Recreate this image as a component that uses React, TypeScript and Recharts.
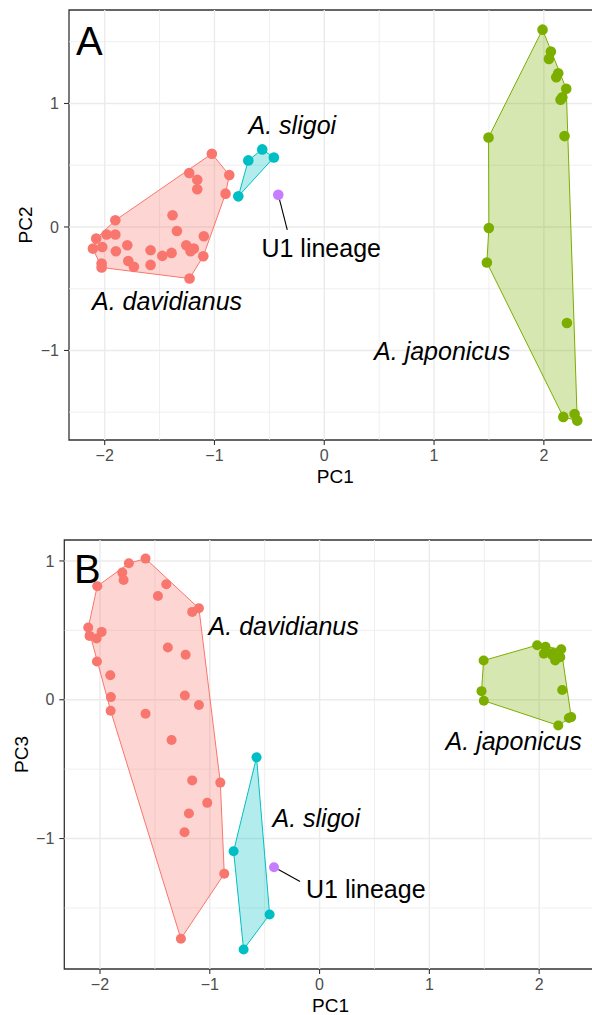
import { ScatterChart, Scatter, XAxis, YAxis, ReferenceLine, ReferenceArea } from "recharts"

// ---- data ----
type Pt = { x: number; y: number }
type Note = Pt & { text: string; kind: "species" | "lineage" | "tag" }

const xDomain = [-2.325, 2.525]
const xTicks = [-2, -1, 0, 1, 2]
const xMinor = [-1.5, -0.5, 0.5, 1.5, 2.5]
const yTicks = [-1, 0, 1]

// Panel A: PC1 vs PC2
const yDomainA = [-1.725, 1.757]
const yMinorA = [-1.5, -0.5, 0.5, 1.5]

const davidianusA: Pt[] = [
  { x: -1.024, y: 0.593 }, { x: -1.23, y: 0.437 }, { x: -1.157, y: 0.383 }, { x: -1.157, y: 0.305 },
  { x: -0.865, y: 0.42 }, { x: -0.899, y: 0.27 }, { x: -1.382, y: 0.095 }, { x: -1.342, y: -0.032 },
  { x: -1.097, y: -0.075 }, { x: -1.903, y: 0.054 }, { x: -2.077, y: -0.094 }, { x: -1.983, y: -0.061 },
  { x: -1.903, y: -0.061 }, { x: -2.107, y: -0.175 }, { x: -2.022, y: -0.162 }, { x: -1.794, y: -0.148 },
  { x: -1.898, y: -0.196 }, { x: -1.582, y: -0.188 }, { x: -1.475, y: -0.234 }, { x: -1.391, y: -0.21 },
  { x: -1.257, y: -0.148 }, { x: -1.188, y: -0.175 }, { x: -1.218, y: -0.196 }, { x: -1.102, y: -0.237 },
  { x: -2.028, y: -0.296 }, { x: -2.028, y: -0.328 }, { x: -1.785, y: -0.275 }, { x: -1.734, y: -0.323 },
  { x: -1.582, y: -0.307 }, { x: -1.227, y: -0.417 },
]
const japonicusA: Pt[] = [
  { x: 1.988, y: 1.598 }, { x: 2.064, y: 1.42 }, { x: 2.046, y: 1.361 }, { x: 2.131, y: 1.245 },
  { x: 2.113, y: 1.213 }, { x: 2.204, y: 1.119 }, { x: 2.168, y: 1.051 }, { x: 2.152, y: 1.03 },
  { x: 2.188, y: 0.736 }, { x: 1.496, y: 0.725 }, { x: 1.499, y: -0.008 }, { x: 1.481, y: -0.288 },
  { x: 2.21, y: -0.778 }, { x: 2.177, y: -1.538 }, { x: 2.28, y: -1.514 }, { x: 2.304, y: -1.568 },
]
const sligoiA: Pt[] = [
  { x: -0.692, y: 0.539 }, { x: -0.565, y: 0.628 }, { x: -0.459, y: 0.563 }, { x: -0.783, y: 0.248 },
]
const u1A: Pt[] = [{ x: -0.419, y: 0.261 }]

const hullDavidianusA: Pt[] = [
  { x: -1.024, y: 0.593 }, { x: -0.865, y: 0.42 }, { x: -0.899, y: 0.27 }, { x: -1.102, y: -0.237 },
  { x: -1.227, y: -0.417 }, { x: -2.028, y: -0.328 }, { x: -2.107, y: -0.175 }, { x: -2.077, y: -0.094 },
  { x: -1.903, y: 0.054 },
]
const hullJaponicusA: Pt[] = [
  { x: 1.988, y: 1.598 }, { x: 2.204, y: 1.119 }, { x: 2.304, y: -1.568 }, { x: 2.177, y: -1.538 },
  { x: 1.481, y: -0.288 }, { x: 1.499, y: -0.008 }, { x: 1.496, y: 0.725 },
]
const hullSligoiA: Pt[] = [
  { x: -0.783, y: 0.248 }, { x: -0.692, y: 0.539 }, { x: -0.565, y: 0.628 }, { x: -0.459, y: 0.563 },
]

const notesA: Note[] = [
  { x: -2.261, y: 1.393, text: "A", kind: "tag" },
  { x: -0.291, y: 0.753, text: "A. sligoi", kind: "species" },
  { x: -0.028, y: -0.241, text: "U1 lineage", kind: "lineage" },
  { x: -1.432, y: -0.672, text: "A. davidianus", kind: "species" },
  { x: 1.074, y: -1.077, text: "A. japonicus", kind: "species" },
]
const leaderA: Pt[] = [{ x: -0.408, y: 0.223 }, { x: -0.337, y: -0.024 }]

// Panel B: PC1 vs PC3
const yDomainB = [-1.94, 1.151]
const yMinorB = [-1.5, -0.5, 0.5]

const davidianusB: Pt[] = [
  { x: -1.585, y: 1.017 }, { x: -1.737, y: 0.983 }, { x: -1.797, y: 0.916 }, { x: -1.785, y: 0.863 },
  { x: -2.025, y: 0.818 }, { x: -1.396, y: 0.832 }, { x: -1.472, y: 0.748 }, { x: -1.099, y: 0.659 },
  { x: -1.16, y: 0.633 }, { x: -2.107, y: 0.52 }, { x: -1.985, y: 0.489 }, { x: -2.095, y: 0.46 },
  { x: -2.031, y: 0.441 }, { x: -2.028, y: 0.276 }, { x: -1.382, y: 0.376 }, { x: -1.22, y: 0.324 },
  { x: -1.906, y: 0.177 }, { x: -1.901, y: 0.019 }, { x: -1.227, y: 0.031 }, { x: -1.099, y: -0.038 },
  { x: -1.903, y: -0.079 }, { x: -1.585, y: -0.101 }, { x: -1.348, y: -0.29 }, { x: -1.16, y: -0.581 },
  { x: -0.904, y: -0.597 }, { x: -1.023, y: -0.743 }, { x: -1.19, y: -0.82 }, { x: -1.23, y: -0.955 },
  { x: -0.868, y: -1.254 }, { x: -1.263, y: -1.722 },
]
const japonicusB: Pt[] = [
  { x: 1.982, y: 0.393 }, { x: 2.058, y: 0.381 }, { x: 2.043, y: 0.331 }, { x: 2.125, y: 0.336 },
  { x: 2.201, y: 0.364 }, { x: 2.192, y: 0.307 }, { x: 2.146, y: 0.283 }, { x: 2.12, y: 0.32 },
  { x: 1.494, y: 0.283 }, { x: 1.475, y: 0.062 }, { x: 1.496, y: -0.007 }, { x: 2.21, y: 0.07 },
  { x: 2.292, y: -0.125 }, { x: 2.271, y: -0.132 }, { x: 2.174, y: -0.185 },
]
const sligoiB: Pt[] = [
  { x: -0.574, y: -0.415 }, { x: -0.783, y: -1.091 }, { x: -0.455, y: -1.547 }, { x: -0.692, y: -1.799 },
]
const u1B: Pt[] = [{ x: -0.415, y: -1.207 }]

const hullDavidianusB: Pt[] = [
  { x: -1.585, y: 1.017 }, { x: -1.099, y: 0.659 }, { x: -0.904, y: -0.597 }, { x: -0.868, y: -1.254 },
  { x: -1.263, y: -1.722 }, { x: -1.903, y: -0.079 }, { x: -2.107, y: 0.52 }, { x: -2.025, y: 0.818 },
  { x: -1.737, y: 0.983 },
]
const hullJaponicusB: Pt[] = [
  { x: 1.494, y: 0.283 }, { x: 1.982, y: 0.393 }, { x: 2.201, y: 0.364 }, { x: 2.292, y: -0.125 },
  { x: 2.174, y: -0.185 }, { x: 1.496, y: -0.007 }, { x: 1.475, y: 0.062 },
]
const hullSligoiB: Pt[] = [
  { x: -0.574, y: -0.415 }, { x: -0.455, y: -1.547 }, { x: -0.692, y: -1.799 }, { x: -0.783, y: -1.091 },
]

const notesB: Note[] = [
  { x: -2.237, y: 0.841, text: "B", kind: "tag" },
  { x: -0.327, y: 0.467, text: "A. davidianus", kind: "species" },
  { x: 1.768, y: -0.362, text: "A. japonicus", kind: "species" },
  { x: -0.03, y: -0.915, text: "A. sligoi", kind: "species" },
  { x: 0.421, y: -1.428, text: "U1 lineage", kind: "lineage" },
]
const leaderB: Pt[] = [{ x: -0.375, y: -1.223 }, { x: -0.178, y: -1.309 }]

// ---- styling ----
const RED = "#F8766D"
const GREEN = "#7CAE00"
const CYAN = "#00BFC4"
const PURPLE = "#C77CFF"
const FONT = "'Liberation Sans', Arial, Helvetica, sans-serif"

const fmt = (v: number) => String(v).replace("-", "\u2212")
const noShape = () => <g />

function renderNote(props: any) {
  const { cx, cy, payload } = props
  if (payload.kind === "tag") {
    return <text x={cx} y={cy} fontSize={40} fill="#000">{payload.text}</text>
  }
  return (
    <text x={cx} y={cy} textAnchor="middle" fontSize={25} fill="#000"
      fontStyle={payload.kind === "species" ? "italic" : "normal"}>
      {payload.text}
    </text>
  )
}

const dot = (r: number, color: string) => (props: any) =>
  <circle cx={props.cx} cy={props.cy} r={r} fill={color} />

interface PanelProps {
  height: number
  top: number
  marginRight: number
  yAxisWidth: number
  xAxisHeight: number
  yDomain: number[]
  yMinor: number[]
  yTitle: string
  yTitleX: number
  r: number
  groups: { pts: Pt[]; hull?: Pt[]; color: string }[]
  notes: Note[]
  leader: Pt[]
}

function Panel(p: PanelProps) {
  return (
    <ScatterChart width={620} height={p.height}
      margin={{ top: p.top, right: p.marginRight, bottom: 0, left: 0 }}>
      <XAxis type="number" dataKey="x" domain={xDomain} ticks={xTicks} interval={0}
        allowDataOverflow tickFormatter={fmt} height={p.xAxisHeight}
        tick={{ fill: "#4d4d4d", fontSize: 16 }} tickSize={5} tickMargin={5}
        tickLine={{ stroke: "#333", strokeWidth: 1.1 }} axisLine={false}
        label={(lp: any) => {
          const vb = lp.viewBox
          return <text x={vb.x + vb.width / 2} y={vb.y + 42.5} textAnchor="middle" fontSize={19} fill="#000">PC1</text>
        }} />
      <YAxis type="number" dataKey="y" domain={p.yDomain} ticks={yTicks} interval={0}
        allowDataOverflow tickFormatter={fmt} width={p.yAxisWidth}
        tick={{ fill: "#4d4d4d", fontSize: 16 }} tickSize={5} tickMargin={5}
        tickLine={{ stroke: "#333", strokeWidth: 1.1 }} axisLine={false}
        label={(lp: any) => {
          const vb = lp.viewBox
          const cx = vb.x + p.yTitleX
          const cy = vb.y + vb.height / 2
          return <text transform={`translate(${cx},${cy}) rotate(-90)`} textAnchor="middle"
            dominantBaseline="central" fontSize={19} fill="#000">{p.yTitle}</text>
        }} />

      {xMinor.map(v => <ReferenceLine key={"xm" + v} x={v} stroke="#ebebeb" strokeWidth={0.8} ifOverflow="hidden" />)}
      {p.yMinor.map(v => <ReferenceLine key={"ym" + v} y={v} stroke="#ebebeb" strokeWidth={0.8} ifOverflow="hidden" />)}
      {xTicks.map(v => <ReferenceLine key={"xM" + v} x={v} stroke="#ebebeb" strokeWidth={1.4} />)}
      {yTicks.map(v => <ReferenceLine key={"yM" + v} y={v} stroke="#ebebeb" strokeWidth={1.4} />)}

      {p.groups.filter(g => g.hull).map((g, i) => (
        <Scatter key={"h" + i} data={g.hull} shape={noShape} isAnimationActive={false}
          line={{ stroke: g.color, strokeWidth: 1, fill: g.color, fillOpacity: 0.3 }}
          lineType="joint" lineJointType="linearClosed" />
      ))}

      <ReferenceLine segment={[p.leader[0], p.leader[1]]} stroke="#000" strokeWidth={1.1} />

      {p.groups.map((g, i) => (
        <Scatter key={"p" + i} data={g.pts} shape={dot(p.r, g.color)} isAnimationActive={false} />
      ))}

      <Scatter data={p.notes} shape={renderNote} isAnimationActive={false} />

      <ReferenceArea x1={xDomain[0]} x2={xDomain[1]} y1={p.yDomain[0]} y2={p.yDomain[1]}
        fill="none" fillOpacity={0} stroke="#333" strokeWidth={1.3} />
    </ScatterChart>
  )
}

export default function App() {
  return (
    <div style={{ position: "absolute", left: 0, top: 0, width: 592, height: 1015, overflow: "hidden", background: "#fff", fontFamily: FONT }}>
      <Panel height={500} top={10} marginRight={18.5} yAxisWidth={69} xAxisHeight={60}
        yDomain={yDomainA} yMinor={yMinorA} yTitle="PC2" yTitleX={25.5} r={5.3}
        groups={[
          { pts: davidianusA, hull: hullDavidianusA, color: RED },
          { pts: japonicusA, hull: hullJaponicusA, color: GREEN },
          { pts: sligoiA, hull: hullSligoiA, color: CYAN },
          { pts: u1A, color: PURPLE },
        ]}
        notes={notesA} leader={leaderA} />
      <Panel height={515} top={40} marginRight={23.2} yAxisWidth={64.3} xAxisHeight={46}
        yDomain={yDomainB} yMinor={yMinorB} yTitle="PC3" yTitleX={21} r={5}
        groups={[
          { pts: davidianusB, hull: hullDavidianusB, color: RED },
          { pts: japonicusB, hull: hullJaponicusB, color: GREEN },
          { pts: sligoiB, hull: hullSligoiB, color: CYAN },
          { pts: u1B, color: PURPLE },
        ]}
        notes={notesB} leader={leaderB} />
    </div>
  )
}
